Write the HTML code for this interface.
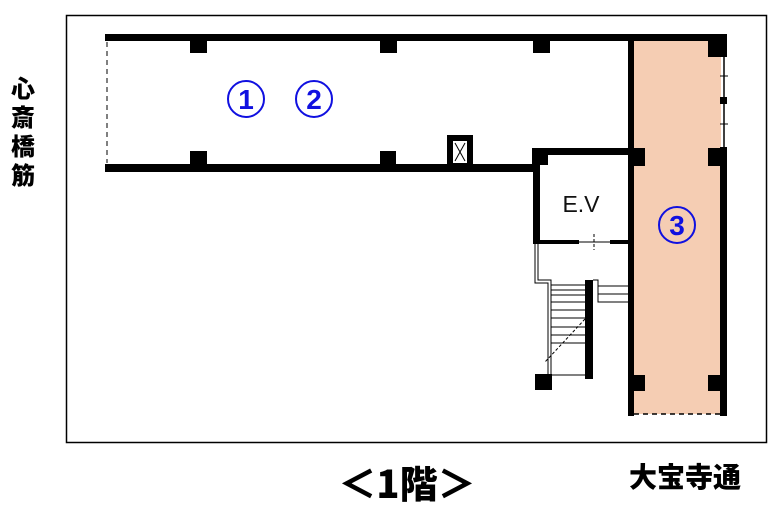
<!DOCTYPE html>
<html><head><meta charset="utf-8"><style>
html,body{margin:0;padding:0;background:#fff;}
svg{display:block;}
</style></head><body>
<svg width="780" height="514" viewBox="0 0 780 514" xmlns="http://www.w3.org/2000/svg">
<rect x="66.5" y="15.5" width="700" height="427" fill="#fff" stroke="#000" stroke-width="1.5"/>
<rect x="633" y="41" width="88" height="373" fill="#f5cdb3"/>
<rect x="105" y="34" width="622" height="7" fill="#000"/>
<rect x="105" y="164" width="435" height="8" fill="#000"/>
<line x1="107" y1="42" x2="107" y2="163" stroke="#000" stroke-width="1" stroke-dasharray="5,4"/>
<rect x="190" y="41" width="17" height="12" fill="#000"/>
<rect x="380" y="41" width="17" height="12" fill="#000"/>
<rect x="533" y="41" width="17" height="12" fill="#000"/>
<rect x="190" y="151" width="17" height="13" fill="#000"/>
<rect x="380" y="151" width="16" height="13" fill="#000"/>
<rect x="447" y="135" width="26" height="30" fill="#000"/>
<rect x="453" y="141" width="14" height="22" fill="#fff"/>
<line x1="455" y1="143" x2="465" y2="161" stroke="#000" stroke-width="1"/>
<line x1="465" y1="143" x2="455" y2="161" stroke="#000" stroke-width="1"/>
<rect x="628" y="34" width="6" height="382" fill="#000"/>
<rect x="720" y="147" width="7" height="269" fill="#000"/>
<rect x="708" y="34" width="19" height="23" fill="#000"/>
<line x1="724" y1="57" x2="724" y2="147" stroke="#000" stroke-width="1.5"/>
<rect x="720" y="97" width="7" height="7" fill="#000"/>
<line x1="720" y1="76" x2="728" y2="76" stroke="#000" stroke-width="1"/>
<line x1="720" y1="124" x2="728" y2="124" stroke="#000" stroke-width="1"/>
<line x1="634" y1="414" x2="720" y2="414" stroke="#000" stroke-width="1.5" stroke-dasharray="5,4"/>
<rect x="628" y="148" width="17" height="18" fill="#000"/>
<rect x="708" y="148" width="19" height="18" fill="#000"/>
<rect x="628" y="375" width="17" height="16" fill="#000"/>
<rect x="708" y="375" width="19" height="16" fill="#000"/>
<rect x="533" y="148" width="95" height="7" fill="#000"/>
<rect x="532" y="148" width="16" height="17" fill="#000"/>
<rect x="533" y="148" width="7" height="96" fill="#000"/>
<rect x="533" y="240" width="46" height="4" fill="#000"/>
<rect x="610" y="240" width="18" height="4" fill="#000"/>
<line x1="579" y1="242" x2="610" y2="242" stroke="#000" stroke-width="1"/>
<line x1="594" y1="234" x2="594" y2="250" stroke="#000" stroke-width="1" stroke-dasharray="3,2"/>
<text x="581" y="212" font-family="Liberation Sans, sans-serif" font-size="23" text-anchor="middle" fill="#111">E.V</text>
<polyline points="535,244 535,283 548,283 548,376" fill="none" stroke="#000" stroke-width="1"/>
<polyline points="538,244 538,280 551,280 551,376" fill="none" stroke="#000" stroke-width="1"/>
<g stroke="#000" stroke-width="1">
<line x1="551" y1="285" x2="585" y2="285"/>
<line x1="551" y1="290" x2="585" y2="290"/>
<line x1="551" y1="295" x2="585" y2="295"/>
<line x1="551" y1="302" x2="585" y2="302"/>
<line x1="551" y1="310" x2="585" y2="310"/>
<line x1="551" y1="318" x2="585" y2="318"/>
<line x1="551" y1="327" x2="585" y2="327"/>
<line x1="551" y1="335" x2="585" y2="335"/>
<line x1="551" y1="343" x2="585" y2="343"/>
<line x1="551" y1="375" x2="585" y2="375"/>
<polyline points="593,280 598,280 598,302 628,302" fill="none"/>
<line x1="598" y1="286" x2="628" y2="286"/>
<line x1="598" y1="294" x2="628" y2="294"/>
<line x1="585" y1="319" x2="545" y2="362" stroke-dasharray="3,2"/>
</g>
<rect x="585" y="280" width="8" height="99" fill="#000"/>
<rect x="535" y="374" width="17" height="16" fill="#000"/>
<g fill="none" stroke="#1010e0" stroke-width="2">
<circle cx="246" cy="99" r="18"/>
<circle cx="314" cy="99" r="18"/>
<circle cx="677" cy="225" r="18"/>
</g>
<g font-family="'Liberation Sans', sans-serif" font-size="28" font-weight="bold" fill="#1010e0" text-anchor="middle">
<text x="246" y="109">1</text>
<text x="314" y="109">2</text>
<text x="677" y="235">3</text>
</g>
<g font-family="'Noto Sans CJK JP', sans-serif" font-weight="900" font-size="24" fill="#000" text-anchor="middle">
<text x="23" y="97">心</text>
<text x="23" y="126">斎</text>
<text x="23" y="155">橋</text>
<text x="23" y="184">筋</text>
<text x="685" y="487" font-size="28">大宝寺通</text>
</g>
<text x="407" y="498" font-family="'Noto Sans CJK JP', sans-serif" font-weight="900" font-size="38" text-anchor="middle" fill="#000">＜1階＞</text>
</svg>
</body></html>
